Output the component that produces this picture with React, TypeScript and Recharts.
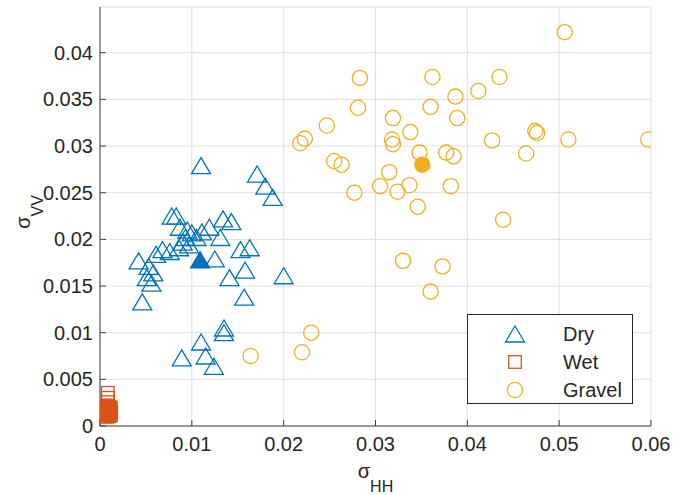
import React from 'react';
import { ScatterChart, Scatter, XAxis, YAxis, CartesianGrid, Legend } from 'recharts';

const BLUE = '#0072BD';
const ORANGE = '#D95319';
const YELLOW = '#EDB120';
const AXIS = '#404040';
const FONT = '"Liberation Sans", Arial, Helvetica, sans-serif';

// sigma_HH / sigma_VV per class
const dryHH = [0.0110, 0.0171, 0.0180, 0.0188, 0.0078, 0.0083, 0.0087, 0.0134, 0.0143, 0.0119, 0.0111, 0.0100, 0.0093, 0.0105, 0.0131, 0.0090, 0.0097, 0.0076, 0.0068, 0.0061, 0.0042, 0.0053, 0.0058, 0.0051, 0.0056, 0.0046, 0.0125, 0.0153, 0.0163, 0.0141, 0.0158, 0.0200, 0.0157, 0.0135, 0.0135, 0.0110, 0.0089, 0.0115, 0.0124, 0.0095, 0.0086];
const dryVV = [0.0279, 0.0270, 0.0257, 0.0245, 0.0225, 0.0225, 0.0213, 0.0222, 0.0219, 0.0213, 0.0208, 0.0207, 0.0202, 0.0202, 0.0202, 0.0197, 0.0194, 0.0187, 0.0189, 0.0184, 0.0177, 0.0171, 0.0164, 0.0159, 0.0153, 0.0133, 0.0179, 0.0189, 0.0191, 0.0159, 0.0167, 0.0161, 0.0138, 0.0105, 0.0100, 0.0090, 0.0073, 0.0075, 0.0064, 0.0210, 0.0191];

const wetHH = [0.00085, 0.00086, 0.00084, 0.00035, 0.00055, 0.00078, 0.00098, 0.00118, 0.00041, 0.00064, 0.00088, 0.00109, 0.00034, 0.00052, 0.00074, 0.00095, 0.00114, 0.00121, 0.00039, 0.00060, 0.00082, 0.00103, 0.00117, 0.00036, 0.00055, 0.00079, 0.00099, 0.00112];
const wetVV = [0.00356, 0.00302, 0.00256, 0.00207, 0.00212, 0.00208, 0.00203, 0.00198, 0.00185, 0.00178, 0.00190, 0.00182, 0.00160, 0.00152, 0.00165, 0.00148, 0.00158, 0.00140, 0.00132, 0.00125, 0.00135, 0.00122, 0.00115, 0.00108, 0.00102, 0.00100, 0.00105, 0.00112];

const gravelHH = [0.0506, 0.0283, 0.0362, 0.0435, 0.0412, 0.0387, 0.0281, 0.0360, 0.0319, 0.0389, 0.0247, 0.0223, 0.0218, 0.0338, 0.0318, 0.0319, 0.0474, 0.0476, 0.0427, 0.0510, 0.0597, 0.0348, 0.0377, 0.0385, 0.0464, 0.0255, 0.0263, 0.0315, 0.0277, 0.0305, 0.0324, 0.0337, 0.0382, 0.0346, 0.0439, 0.0330, 0.0373, 0.0360, 0.0164, 0.0220, 0.0230];
const gravelVV = [0.0422, 0.0373, 0.0374, 0.0374, 0.0359, 0.0353, 0.0341, 0.0342, 0.0330, 0.0330, 0.0322, 0.0308, 0.0303, 0.0315, 0.0307, 0.0302, 0.0316, 0.0314, 0.0306, 0.0307, 0.0307, 0.0293, 0.0293, 0.0289, 0.0292, 0.0284, 0.0280, 0.0272, 0.0250, 0.0257, 0.0251, 0.0258, 0.0257, 0.0235, 0.0221, 0.0177, 0.0171, 0.0144, 0.0075, 0.0079, 0.0100];

// class means (filled markers)
const dryMean = [0.0109, 0.0178];
const wetMean = [0.0008, 0.0016];
const gravelMean = [0.0351, 0.0280];

const classNames = ['Dry', 'Wet', 'Gravel'];
const xTicks = [0, 0.01, 0.02, 0.03, 0.04, 0.05, 0.06];
const yTicks = [0, 0.005, 0.01, 0.015, 0.02, 0.025, 0.03, 0.035, 0.04];

const toPoints = (xs: number[], ys: number[]) => xs.map((x, i) => ({ x, y: ys[i] }));

const fmt = (v: number) => String(parseFloat(v.toFixed(4)));

function Tri({ cx, cy, color, filled }: any) {
  return (
    <polygon
      points={`${cx},${cy - 8} ${cx - 9.5},${cy + 8} ${cx + 9.5},${cy + 8}`}
      fill={filled ? color : 'none'}
      stroke={color}
      strokeWidth={1.3}
    />
  );
}

function Sq({ cx, cy, color, filled }: any) {
  return (
    <rect x={cx - 6.3} y={cy - 6.3} width={12.6} height={12.6} fill={filled ? color : 'none'} stroke={color} strokeWidth={1.3} />
  );
}

function Circ({ cx, cy, color, filled }: any) {
  return <circle cx={cx} cy={cy} r={7.6} fill={filled ? color : 'none'} stroke={color} strokeWidth={1.3} />;
}

const legendItems: Record<string, { color: string; Icon: any }> = {
  Dry: { color: BLUE, Icon: Tri },
  Wet: { color: ORANGE, Icon: Sq },
  Gravel: { color: YELLOW, Icon: Circ },
};

function LegendBox({ payload }: any) {
  const shown = (payload || []).map((p: any) => p.value);
  const items = classNames.filter((n) => shown.includes(n));
  return (
    <div
      style={{
        width: 164,
        height: 83,
        border: '1px solid #262626',
        background: '#fff',
        boxSizing: 'content-box',
        fontFamily: FONT,
        fontSize: 20,
        color: '#262626',
        paddingTop: 5,
      }}
    >
      {items.map((name) => {
        const { color, Icon } = legendItems[name];
        return (
          <div key={name} style={{ display: 'flex', alignItems: 'center', height: 28 }}>
            <svg width={95} height={28} style={{ display: 'block' }}>
              <Icon cx={47} cy={14} color={color} />
            </svg>
            <span style={{ lineHeight: '28px' }}>{name}</span>
          </div>
        );
      })}
    </div>
  );
}

function XLabel({ viewBox }: any) {
  const cx = viewBox.x + viewBox.width / 2;
  return (
    <text x={cx} y={478} textAnchor="middle" fill="#262626" fontFamily={FONT} fontSize={20}>
      <tspan>σ</tspan>
      <tspan fontSize={16} dy={14}>HH</tspan>
    </text>
  );
}

function YLabel() {
  return (
    <text transform="translate(30,212) rotate(-90)" textAnchor="middle" fill="#262626" fontFamily={FONT} fontSize={20}>
      <tspan>σ</tspan>
      <tspan fontSize={16} dy={13}>VV</tspan>
    </text>
  );
}

export default function App() {
  const tickStyle = { fill: '#262626', fontSize: 20, fontFamily: FONT };
  return (
    <div style={{ position: 'absolute', left: 0, top: 0, width: 688, height: 495, background: '#fff' }}>
      <ScatterChart width={688} height={495} margin={{ top: 7, right: 37, bottom: 0, left: 0 }}>
        <CartesianGrid stroke="#dfdfdf" strokeWidth={1} />
        <XAxis
          type="number"
          dataKey="x"
          domain={[0, 0.06]}
          ticks={xTicks}
          tickFormatter={fmt}
          height={69}
          tickSize={-6}
          tickMargin={17}
          stroke={AXIS}
          tick={tickStyle}
          label={<XLabel />}
          allowDataOverflow
        />
        <YAxis
          type="number"
          dataKey="y"
          domain={[0, 0.0449]}
          ticks={yTicks}
          tickFormatter={fmt}
          width={100}
          tickSize={-6}
          tickMargin={13}
          stroke={AXIS}
          tick={tickStyle}
          label={<YLabel />}
          allowDataOverflow
        />
        <Scatter name="Dry" data={toPoints(dryHH, dryVV)} fill={BLUE} legendType="triangle" isAnimationActive={false}
          shape={(p: any) => <Tri cx={p.cx} cy={p.cy} color={BLUE} />} />
        <Scatter name="Wet" data={toPoints(wetHH, wetVV)} fill={ORANGE} legendType="square" isAnimationActive={false}
          shape={(p: any) => <Sq cx={p.cx} cy={p.cy} color={ORANGE} />} />
        <Scatter name="Gravel" data={toPoints(gravelHH, gravelVV)} fill={YELLOW} legendType="circle" isAnimationActive={false}
          shape={(p: any) => <Circ cx={p.cx} cy={p.cy} color={YELLOW} />} />
        <Scatter name="Dry mean" data={[{ x: dryMean[0], y: dryMean[1] }]} legendType="none" isAnimationActive={false}
          shape={(p: any) => <Tri cx={p.cx} cy={p.cy} color={BLUE} filled />} />
        <Scatter name="Wet mean" data={[{ x: wetMean[0], y: wetMean[1] }]} legendType="none" isAnimationActive={false}
          shape={(p: any) => <Sq cx={p.cx} cy={p.cy} color={ORANGE} filled />} />
        <Scatter name="Gravel mean" data={[{ x: gravelMean[0], y: gravelMean[1] }]} legendType="none" isAnimationActive={false}
          shape={(p: any) => <Circ cx={p.cx} cy={p.cy} color={YELLOW} filled />} />
        <Legend
          layout="vertical"
          align="center"
          verticalAlign="middle"
          content={<LegendBox />}
          wrapperStyle={{ position: 'absolute', left: 467, top: 314, width: 166, height: 90 }}
        />
      </ScatterChart>
    </div>
  );
}
